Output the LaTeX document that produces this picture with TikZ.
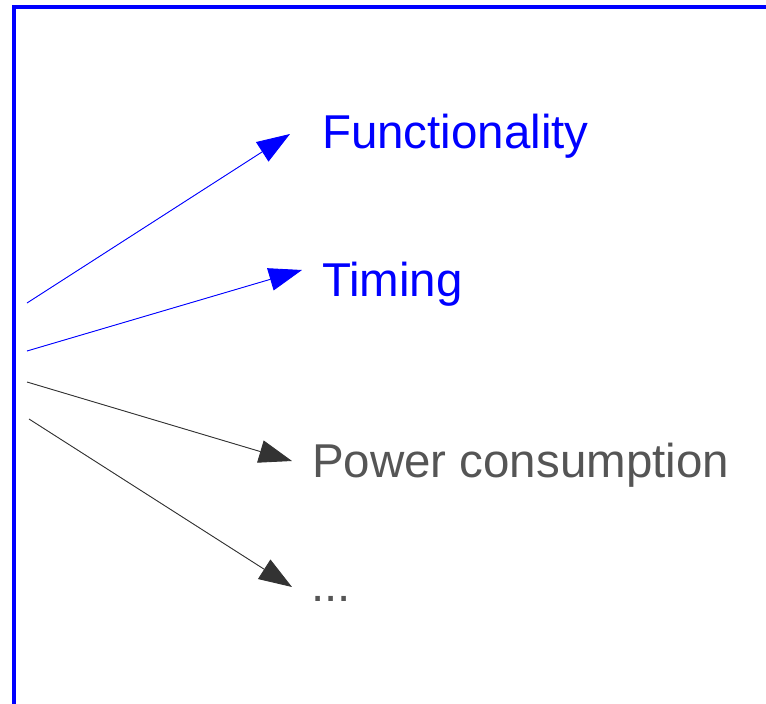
\documentclass[tikz,border=0pt]{standalone}
\usepackage{fontspec}
\setmainfont{Liberation Sans}
\usetikzlibrary{arrows.meta}
\definecolor{txtgray}{HTML}{555555}
\definecolor{arrgray}{HTML}{333333}
\begin{document}
\begin{tikzpicture}[x=1pt,y=-1pt,
  lbl/.style={anchor=base west,inner sep=0pt,outer sep=0pt},
  bluelbl/.style={lbl,text=blue,font=\fontsize{47.5}{50}\selectfont},
  graylbl/.style={lbl,text=txtgray,font=\fontsize{47.5}{50}\selectfont},
  conn/.style={line width=0.9pt,-{Triangle[length=33pt,width=23pt]}},
  blueconn/.style={conn,draw=blue,fill=blue},
  grayconn/.style={conn,draw=arrgray,fill=arrgray}]
\useasboundingbox (0,0) rectangle (766,704);
\draw[blue,line width=4.5pt,line join=miter] (14,710) -- (14,7) -- (770,7);
\node[bluelbl] (func) at (322,148) {Functionality};
\node[bluelbl] (timing) at (322,296) {Timing};
\node[graylbl] (power) at (312,477) {Power consumption};
\node[graylbl] (dots) at (311,601) {...};
\coordinate (s1) at (27,303);
\coordinate (s2) at (27,351);
\coordinate (s3) at (27,382);
\coordinate (s4) at (29,419);
\coordinate (t1) at (290,134);
\coordinate (t2) at (302,270);
\coordinate (t3) at (292,461);
\coordinate (t4) at (292,587);
\draw[blueconn] (s1) -- (t1);
\draw[blueconn] (s2) -- (t2);
\draw[grayconn] (s3) -- (t3);
\draw[grayconn] (s4) -- (t4);
\end{tikzpicture}
\end{document}
